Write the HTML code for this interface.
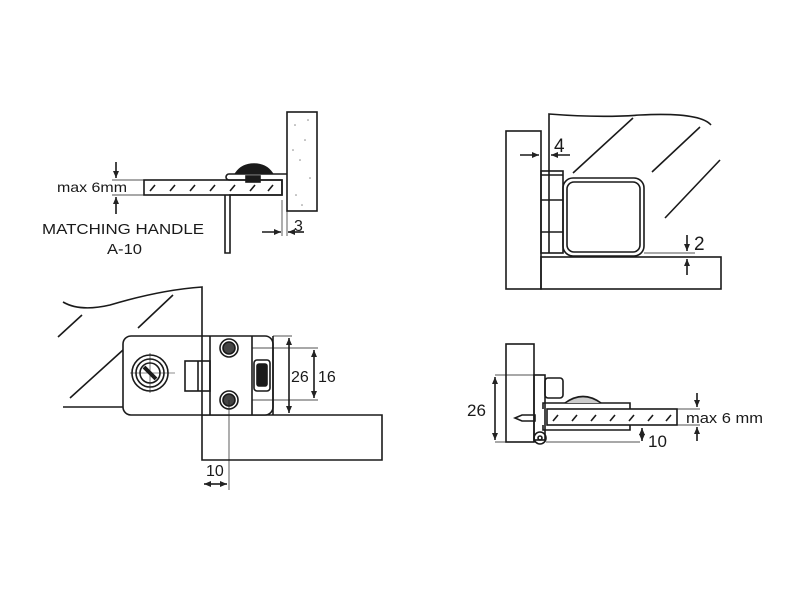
<!DOCTYPE html>
<html><head><meta charset="utf-8"><style>
html,body{margin:0;padding:0;background:#fff;}
svg{display:block;}
text{font-family:"Liberation Sans",sans-serif;fill:#1a1a1a;}
</style></head><body>
<svg width="800" height="600" viewBox="0 0 800 600" xmlns="http://www.w3.org/2000/svg">
<defs>
<marker id="a" markerWidth="8" markerHeight="8" refX="7" refY="4" orient="auto" markerUnits="userSpaceOnUse"><path d="M0,1 L7,4 L0,7 Z" fill="#222"/></marker>
</defs>
<g fill="none" stroke="#1a1a1a" stroke-width="1.6">
<!-- Panel 1 -->
<rect x="287" y="112" width="30" height="99" fill="#fff"/>
<g fill="#888" stroke="none">
<circle cx="295" cy="125" r="0.8"/><circle cx="305" cy="140" r="0.8"/><circle cx="300" cy="160" r="0.8"/><circle cx="310" cy="178" r="0.8"/><circle cx="296" cy="195" r="0.8"/><circle cx="308" cy="120" r="0.8"/><circle cx="302" cy="205" r="0.8"/><circle cx="293" cy="150" r="0.8"/></g>
<rect x="144" y="180" width="138" height="15"/>
<path d="M150,191 l5,-6 M170,191 l5,-6 M190,191 l5,-6 M210,191 l5,-6 M230,191 l5,-6 M250,191 l5,-6 M268,191 l5,-6"/>
<path d="M287,174 H229 a3,3 0 0 0 0,6 H282 V195 H230 V253 L225,253 V195"/>
<path d="M236,173 Q242,164 254,164 Q266,164 272,173 Z" fill="#1a1a1a"/>
<rect x="246" y="176" width="14" height="6" fill="#1a1a1a"/>
<path d="M116,162 V178" marker-end="url(#a)"/>
<path d="M116,214 V197" marker-end="url(#a)"/>
<path d="M112,180 H144 M112,195 H144" stroke-width="0.7"/>
<path d="M262,232 H281" marker-end="url(#a)"/>
<path d="M304,232 H288" marker-end="url(#a)"/>
<path d="M282,200 V236 M287,211 V236" stroke-width="0.7"/>
<!-- Panel 2 -->
<rect x="506" y="131" width="35" height="158"/>
<rect x="541" y="257" width="180" height="32"/>
<path d="M549,253 V114 Q600,118 640,115 Q700,112 711,125"/>
<rect x="541" y="171" width="22" height="82"/>
<path d="M541,175 H563 M541,200 H563 M541,232 H563"/>
<rect x="563" y="178" width="81" height="78" rx="10"/>
<rect x="567" y="182" width="73" height="70" rx="7"/>
<path d="M573,173 L633,118 M652,172 L700,127 M665,218 L720,160"/>
<path d="M520,155 H539" marker-end="url(#a)"/>
<path d="M570,155 H551" marker-end="url(#a)"/>
<path d="M644,253 H695" stroke-width="0.7"/>
<path d="M687,235 V251" marker-end="url(#a)"/>
<path d="M687,275 V259" marker-end="url(#a)"/>
<!-- Panel 3 -->
<path d="M63,302 Q80,312 110,305 Q160,290 202,287 V460 H382 V415 H202"/>
<path d="M58,337 L82,315 M138,328 L173,295 M70,398 L123,350 M63,407 H123"/>
<rect x="123" y="336" width="150" height="79" rx="8" fill="#fff"/>
<circle cx="150" cy="373" r="18"/><circle cx="150" cy="373" r="14"/><circle cx="150" cy="373" r="10"/>
<path d="M144,367 L156,379" stroke-width="4"/>
<path d="M130,373 H175 M150,353 V393" stroke-width="0.6"/>
<path d="M210,336 V415 M252,336 V415 M273,336 V415 M202,336 V415"/>
<rect x="185" y="361" width="25" height="30"/>
<path d="M198,361 V391"/>
<rect x="254" y="360" width="16" height="31" rx="3"/>
<rect x="257" y="364" width="10" height="22" rx="2" fill="#1a1a1a"/>
<circle cx="229" cy="348" r="9"/><circle cx="229" cy="348" r="6" fill="#444"/>
<circle cx="229" cy="400" r="9"/><circle cx="229" cy="400" r="6" fill="#444"/>
<path d="M273,336 H292 M252,348 H318 M252,400 H318 M273,415 H292" stroke-width="0.7"/>
<path d="M289,376 V338" marker-end="url(#a)"/><path d="M289,376 V413" marker-end="url(#a)"/>
<path d="M314,376 V350" marker-end="url(#a)"/><path d="M314,376 V398" marker-end="url(#a)"/>
<path d="M229,400 V490" stroke-width="0.7"/>
<path d="M215,484 H204" marker-end="url(#a)"/><path d="M215,484 H227" marker-end="url(#a)"/>
<!-- Panel 4 -->
<rect x="506" y="344" width="28" height="98"/>
<rect x="534" y="375" width="11" height="65"/>
<rect x="545" y="378" width="18" height="20" rx="3"/>
<rect x="547" y="409" width="130" height="16"/>
<path d="M553,421 l5,-6 M572,421 l5,-6 M591,421 l5,-6 M610,421 l5,-6 M629,421 l5,-6 M648,421 l5,-6 M666,421 l5,-6"/>
<path d="M543,409 V403 H630 V409 M543,425 V430 H630 V425"/>
<path d="M565,403 Q583,390 601,403" fill="#ccc"/>
<path d="M515,418 L522,415 H535 V421 H522 Z"/>
<circle cx="540" cy="438" r="6"/><circle cx="540" cy="438" r="2"/>
<path d="M495,375 H534 M495,442 H506 M546,442 H640 M677,409 H700 M677,425 H700" stroke-width="0.7"/>
<path d="M495,409 V377" marker-end="url(#a)"/><path d="M495,409 V440" marker-end="url(#a)"/>
<path d="M697,393 V407" marker-end="url(#a)"/><path d="M697,441 V427" marker-end="url(#a)"/>
<path d="M642,433 V428" marker-end="url(#a)"/><path d="M642,434 V441" marker-end="url(#a)"/>
</g>
<text x="57" y="192" font-size="14" textLength="70" lengthAdjust="spacingAndGlyphs">max 6mm</text>
<text x="42" y="234" font-size="15" textLength="162" lengthAdjust="spacingAndGlyphs">MATCHING HANDLE</text>
<text x="107" y="254" font-size="15" textLength="35" lengthAdjust="spacingAndGlyphs">A-10</text>
<text x="294" y="231" font-size="16">3</text>
<text x="554" y="152" font-size="19">4</text>
<text x="694" y="250" font-size="19">2</text>
<text x="291" y="382" font-size="16">26</text>
<text x="318" y="382" font-size="16">16</text>
<text x="206" y="476" font-size="16">10</text>
<text x="467" y="416" font-size="17">26</text>
<text x="686" y="423" font-size="15" textLength="77" lengthAdjust="spacingAndGlyphs">max 6 mm</text>
<text x="648" y="447" font-size="17">10</text>
</svg>
</body></html>
